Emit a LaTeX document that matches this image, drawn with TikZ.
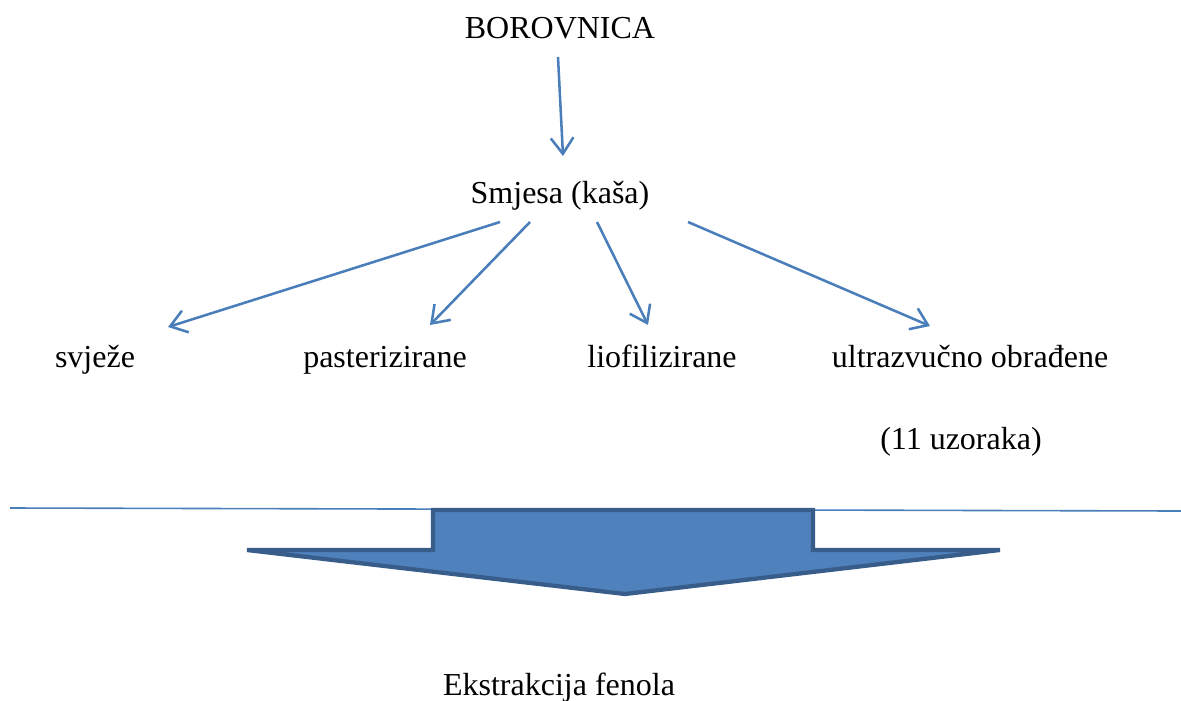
\documentclass[tikz,border=0pt]{standalone}
\usepackage{fontspec}
\setmainfont{Liberation Serif}
\usetikzlibrary{positioning,arrows.meta}

\definecolor{linkblue}{RGB}{74,126,187}
\definecolor{bigfill}{RGB}{79,129,189}
\definecolor{bigedge}{RGB}{56,93,138}

\begin{document}
\begin{tikzpicture}[x=0.375pt,y=-0.375pt,
  lbl/.style={anchor=base,inner sep=0pt,font=\fontsize{12pt}{14pt}\selectfont},
  link/.style={draw=linkblue,line width=0.95pt,-{Straight Barb[length=6pt,width=8.5pt]}}]
\useasboundingbox (0,0) rectangle (1181,700);

\def\ya{38}
\def\yb{203}
\def\yc{367}
\def\yd{449}
\def\ye{695}

\node[lbl](bor) at (560, \ya) {BOROVNICA};
\node[lbl](smj) at (560, \yb) {Smjesa (kaša)};
\node[lbl](svj) at (95, \yc) {svježe};
\node[lbl](pas) at (385, \yc) {pasterizirane};
\node[lbl](lio) at (662, \yc) {liofilizirane};
\node[lbl](ult) at (970, \yc) {ultrazvučno obrađene};
\node[lbl](uzo) at (961, \yd) {(11 uzoraka)};
\node[lbl](ekf) at (559, \ye) {Ekstrakcija fenola};

\coordinate(a) at (558, 57);
\coordinate(b) at (563, 156);
\coordinate(c) at (500, 222);
\coordinate(d) at (168, 327);
\coordinate(e) at (530, 222);
\coordinate(f) at (430, 325);
\coordinate(g) at (597, 222);
\coordinate(h) at (648, 325);
\coordinate(i) at (688, 222);
\coordinate(j) at (930, 326);

\draw[link] (a) -- (b);
\draw[link] (c) -- (d);
\draw[link] (e) -- (f);
\draw[link] (g) -- (h);
\draw[link] (i) -- (j);

\coordinate(ll) at (10, 508);
\coordinate(lr) at (1181, 511);
\draw[linkblue,line width=0.6pt] (ll) -- (lr);

\filldraw[fill=bigfill,draw=bigedge,line width=1.6pt,line join=miter]
  (433,510) -- (813,510) -- (813,550) -- (1000,550) -- (625,594)
  -- (247,550) -- (433,550) -- cycle;

\end{tikzpicture}
\end{document}
